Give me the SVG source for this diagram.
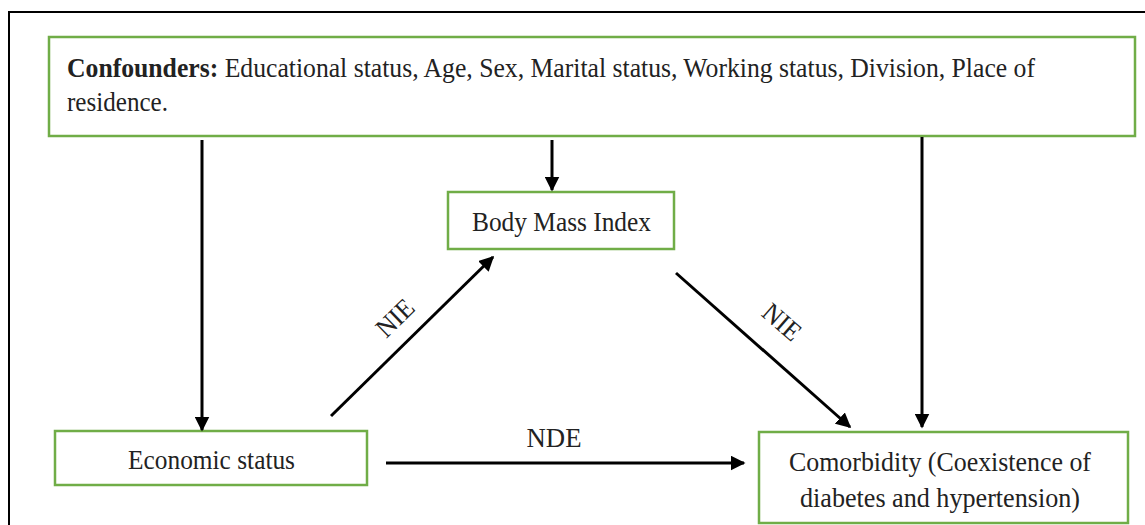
<svg xmlns="http://www.w3.org/2000/svg" width="1145" height="525" viewBox="0 0 1145 525">
<style>
.box{fill:#fff;stroke:#70ad47;stroke-width:2.5}
.t{font-family:"Liberation Serif","Times New Roman",serif;font-size:27px;fill:#222}
.c{stroke:#000;stroke-width:3;fill:none;marker-end:url(#ah)}
</style>
<defs>
<marker id="ah" viewBox="0 0 10 10" refX="9" refY="5" markerWidth="5" markerHeight="5" orient="auto" markerUnits="strokeWidth">
<path d="M0,0 L10,5 L0,10 z" fill="#000"/>
</marker>
</defs>
<rect x="0" y="0" width="1145" height="525" fill="#fff"/>
<path d="M9,535 V12 H1155" fill="none" stroke="#000" stroke-width="2"/>
<g id="confounders">
<rect class="box" x="49" y="37" width="1086" height="99"/>
<text class="t" x="67" y="77" font-size="26" textLength="968" lengthAdjust="spacingAndGlyphs"><tspan font-weight="bold">Confounders:</tspan> Educational status, Age, Sex, Marital status, Working status, Division, Place of</text>
<text class="t" x="67" y="111" font-size="26" textLength="101" lengthAdjust="spacingAndGlyphs">residence.</text>
</g>
<g id="bmi">
<rect class="box" x="448" y="192" width="226" height="57"/>
<text class="t" x="472" y="231" textLength="179" lengthAdjust="spacingAndGlyphs">Body Mass Index</text>
</g>
<g id="economic">
<rect class="box" x="55" y="431" width="312" height="54"/>
<text class="t" x="128" y="469" textLength="167" lengthAdjust="spacingAndGlyphs">Economic status</text>
</g>
<g id="comorbidity">
<rect class="box" x="759" y="432" width="369" height="91"/>
<text class="t" x="789" y="471" textLength="302" lengthAdjust="spacingAndGlyphs">Comorbidity (Coexistence of</text>
<text class="t" x="800" y="507" textLength="280" lengthAdjust="spacingAndGlyphs">diabetes and hypertension)</text>
</g>
<g id="connectors">
<line class="c" x1="202" y1="140" x2="202" y2="430"/>
<line class="c" x1="552" y1="140" x2="552" y2="190"/>
<line class="c" x1="922" y1="137" x2="922" y2="427"/>
<line class="c" x1="331" y1="416" x2="493" y2="257"/>
<line class="c" x1="676" y1="273" x2="850" y2="427"/>
<line class="c" x1="386" y1="463" x2="744" y2="463"/>
<text class="t" x="395" y="327" text-anchor="middle" textLength="42" lengthAdjust="spacingAndGlyphs" transform="rotate(-44 395 318)">NIE</text>
<text class="t" x="782" y="331" text-anchor="middle" textLength="42" lengthAdjust="spacingAndGlyphs" transform="rotate(41 782 322)">NIE</text>
<text class="t" x="554" y="447" text-anchor="middle" textLength="55" lengthAdjust="spacingAndGlyphs">NDE</text>
</g>
</svg>
